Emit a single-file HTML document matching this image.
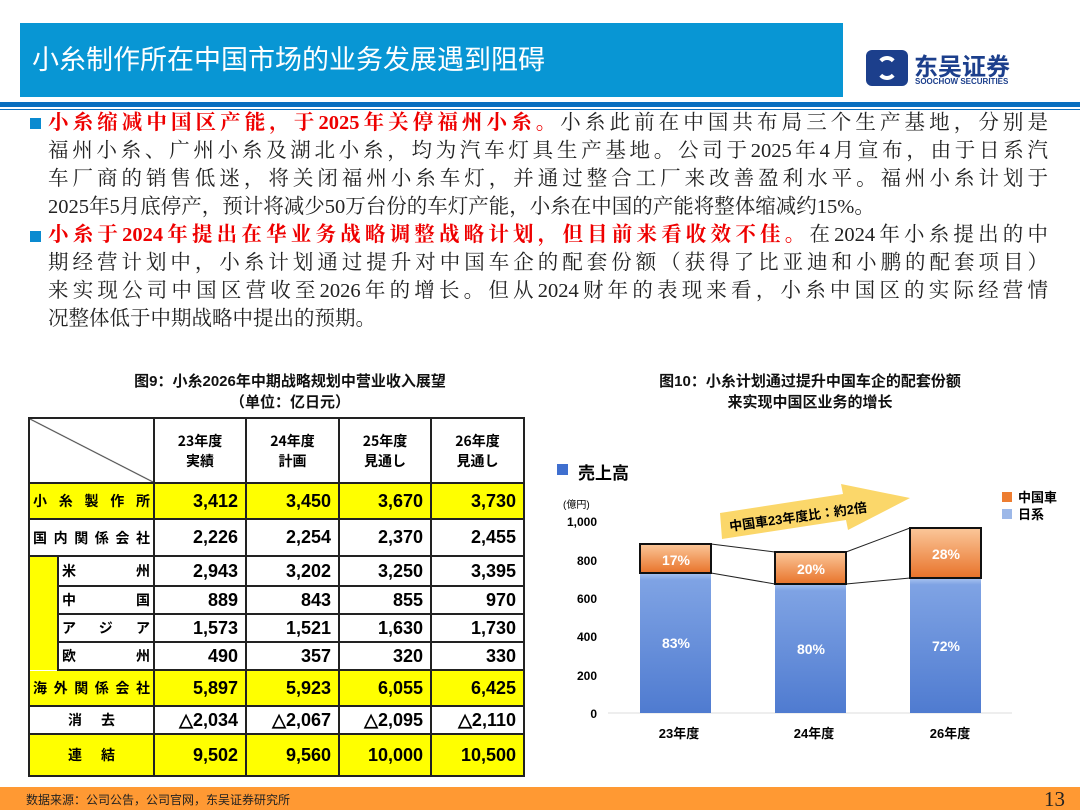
<!DOCTYPE html>
<html><head><meta charset="utf-8"><style>
body{margin:0;width:1080px;height:810px;background:#fff;position:relative;overflow:hidden;font-family:"Liberation Sans","Noto Sans CJK SC",sans-serif}
.abs{position:absolute}
.title{left:20px;top:23px;width:823px;height:74px;background:#0896d4;color:#fff;font-size:27px;line-height:74px;padding-left:12px;box-sizing:border-box}
.rule{left:0;top:102px;width:1080px;height:5px;background:#0a6fbf}
.rule2{left:0;top:109px;width:1080px;height:1px;background:#0a6fbf}
.para{left:48px;width:1000px;font-family:"Liberation Serif","Noto Serif CJK SC",serif;font-size:20.5px;color:#222}
.para div{height:28px;line-height:28px;text-align:justify;text-align-last:justify;white-space:nowrap}
.red{color:#e00;font-weight:bold}
.bul{width:11px;height:11px;background:#0a8ad0;left:30px}
.cap{font-size:15px;font-weight:bold;text-align:center;color:#111;line-height:21px}
table{border-collapse:collapse;table-layout:fixed;width:495px;position:absolute;left:28px;top:417px;font-weight:bold;font-size:18px}
td{border:2px solid #222;padding:0 7px;text-align:right;font-family:"Liberation Sans Narrow","Liberation Sans",sans-serif;overflow:hidden;white-space:nowrap}
.y td{background:#ffff00}
.lab{text-align:justify;text-align-last:justify;font-size:14px;font-family:"Noto Sans CJK JP",sans-serif;padding:0 3px}
.footer{left:0;top:787px;width:1080px;height:23px;background:#ff9933}
</style></head><body>
<div class="abs title">小糸制作所在中国市场的业务发展遇到阻碍</div>
<div class="abs" style="left:866px;top:50px;width:42px;height:36px;background:#1c3f8c;border-radius:6px"></div>
<div class="abs" style="left:876px;top:56px;width:22px;height:24px;border:4px solid #fff;border-radius:50%;box-sizing:border-box;border-left-color:transparent;border-right-color:transparent"></div>
<div class="abs" style="left:914px;top:47px;font-size:24px;color:#1c3f8c;font-weight:bold">东吴证券</div>
<div class="abs" style="left:915px;top:77px;font-size:8px;color:#1c3f8c;font-weight:bold">SOOCHOW SECURITIES</div>
<div class="abs rule"></div><div class="abs rule2"></div>
<div class="abs bul" style="top:118px"></div>
<div class="abs bul" style="top:231px"></div>
<div class="abs para" style="top:109px">
<div><span class="red">小糸缩减中国区产能，于2025年关停福州小糸。</span>小糸此前在中国共布局三个生产基地，分别是</div>
<div>福州小糸、广州小糸及湖北小糸，均为汽车灯具生产基地。公司于2025年4月宣布，由于日系汽</div>
<div>车厂商的销售低迷，将关闭福州小糸车灯，并通过整合工厂来改善盈利水平。福州小糸计划于</div>
<div style="text-align-last:left">2025年5月底停产，预计将减少50万台份的车灯产能，小糸在中国的产能将整体缩减约15%。</div>
<div><span class="red">小糸于2024年提出在华业务战略调整战略计划，但目前来看收效不佳。</span>在2024年小糸提出的中</div>
<div>期经营计划中，小糸计划通过提升对中国车企的配套份额（获得了比亚迪和小鹏的配套项目）</div>
<div>来实现公司中国区营收至2026年的增长。但从2024财年的表现来看，小糸中国区的实际经营情</div>
<div style="text-align-last:left">况整体低于中期战略中提出的预期。</div>
</div>
<div class="abs cap" style="left:60px;top:371px;width:460px">图9：小糸2026年中期战略规划中营业收入展望<br>（单位：亿日元）</div>
<div class="abs cap" style="left:590px;top:371px;width:440px">图10：小糸计划通过提升中国车企的配套份额<br>来实现中国区业务的增长</div>
<table>
<colgroup><col style="width:29px"><col style="width:96px"><col style="width:92px"><col style="width:93px"><col style="width:92px"><col style="width:93px"></colgroup>
<tr style="height:65px"><td colspan="2" style="background:linear-gradient(to top right,#fff calc(50% - 1px),#333 50%,#fff calc(50% + 1px))"></td>
<td style="text-align:center;font-size:14px;font-family:'Noto Sans CJK JP',sans-serif">23年度<br>実績</td>
<td style="text-align:center;font-size:14px;font-family:'Noto Sans CJK JP',sans-serif">24年度<br>計画</td>
<td style="text-align:center;font-size:14px;font-family:'Noto Sans CJK JP',sans-serif">25年度<br>見通し</td>
<td style="text-align:center;font-size:14px;font-family:'Noto Sans CJK JP',sans-serif">26年度<br>見通し</td></tr>
<tr class="y" style="height:36px"><td colspan="2" class="lab">小糸製作所</td><td>3,412</td><td>3,450</td><td>3,670</td><td>3,730</td></tr>
<tr style="height:37px"><td colspan="2" class="lab">国内関係会社</td><td>2,226</td><td>2,254</td><td>2,370</td><td>2,455</td></tr>
<tr style="height:30px"><td rowspan="4" style="background:#ffff00;padding:0;border-bottom:none"></td><td class="lab">米州</td><td>2,943</td><td>3,202</td><td>3,250</td><td>3,395</td></tr>
<tr style="height:28px"><td class="lab">中国</td><td>889</td><td>843</td><td>855</td><td>970</td></tr>
<tr style="height:28px"><td class="lab">アジア</td><td>1,573</td><td>1,521</td><td>1,630</td><td>1,730</td></tr>
<tr style="height:28px"><td class="lab">欧州</td><td>490</td><td>357</td><td>320</td><td>330</td></tr>
<tr class="y" style="height:36px"><td colspan="2" class="lab" style="border-top:none">海外関係会社</td><td>5,897</td><td>5,923</td><td>6,055</td><td>6,425</td></tr>
<tr style="height:28px"><td colspan="2" class="lab" style="padding:0 38px">消去</td><td>△2,034</td><td>△2,067</td><td>△2,095</td><td>△2,110</td></tr>
<tr class="y" style="height:42px"><td colspan="2" class="lab" style="padding:0 38px">連結</td><td>9,502</td><td>9,560</td><td>10,000</td><td>10,500</td></tr>
</table>
<svg class="abs" style="left:0;top:0" width="1080" height="810" font-family="Liberation Sans,Noto Sans CJK JP,sans-serif" font-weight="bold">
<defs><linearGradient id="b" x1="0" y1="0" x2="0" y2="1"><stop offset="0" stop-color="#a9c4f0"/><stop offset=".05" stop-color="#7fa3e4"/><stop offset="1" stop-color="#4f7bd0"/></linearGradient>
<linearGradient id="o" x1="0" y1="0" x2="0" y2="1"><stop offset="0" stop-color="#fbc79a"/><stop offset="1" stop-color="#e8732a"/></linearGradient></defs>
<rect x="557" y="464" width="11" height="11" fill="#3f6fcf"/>
<text x="578" y="479" font-size="17">売上高</text>
<text x="563" y="508" font-size="10" font-weight="normal">(億円)</text>
<g font-size="12" text-anchor="end"><text x="597" y="526">1,000</text><text x="597" y="565">800</text><text x="597" y="603">600</text><text x="597" y="641">400</text><text x="597" y="680">200</text><text x="597" y="718">0</text></g>
<line x1="608" y1="713" x2="1012" y2="713" stroke="#ddd"/>
<polygon points="720,513 843,494 841,484 910,498 848,530 846,520 722,539" fill="#fbd76a"/>
<text x="730" y="531" font-size="13" transform="rotate(-8 730 531)">中国車23年度比：約2倍</text>
<line x1="711" y1="544" x2="775" y2="552" stroke="#222"/><line x1="711" y1="573" x2="775" y2="584" stroke="#222"/>
<line x1="846" y1="552" x2="910" y2="528" stroke="#222"/><line x1="846" y1="584" x2="910" y2="578" stroke="#222"/>
<rect x="640" y="573" width="71" height="140" fill="url(#b)"/><rect x="640" y="544" width="71" height="29" fill="url(#o)" stroke="#111" stroke-width="2"/>
<rect x="775" y="584" width="71" height="129" fill="url(#b)"/><rect x="775" y="552" width="71" height="32" fill="url(#o)" stroke="#111" stroke-width="2"/>
<rect x="910" y="578" width="71" height="135" fill="url(#b)"/><rect x="910" y="528" width="71" height="50" fill="url(#o)" stroke="#111" stroke-width="2"/>
<g fill="#fff" font-size="14" text-anchor="middle"><text x="676" y="565">17%</text><text x="811" y="574">20%</text><text x="946" y="559">28%</text>
<text x="676" y="648">83%</text><text x="811" y="654">80%</text><text x="946" y="651">72%</text></g>
<g font-size="13" text-anchor="middle"><text x="679" y="738">23年度</text><text x="814" y="738">24年度</text><text x="950" y="738">26年度</text></g>
<rect x="1002" y="492" width="10" height="10" fill="#ed7d31"/><text x="1018" y="502" font-size="13">中国車</text>
<rect x="1002" y="509" width="10" height="10" fill="#9db8e8"/><text x="1018" y="519" font-size="13">日系</text>
</svg>
<div class="abs footer"></div>
<div class="abs" style="left:26px;top:791px;font-size:12px;color:#222">数据来源：公司公告，公司官网，东吴证券研究所</div>
<div class="abs" style="left:1044px;top:787px;font-size:21px;font-family:'Liberation Serif',serif;color:#222">13</div>
</body></html>
